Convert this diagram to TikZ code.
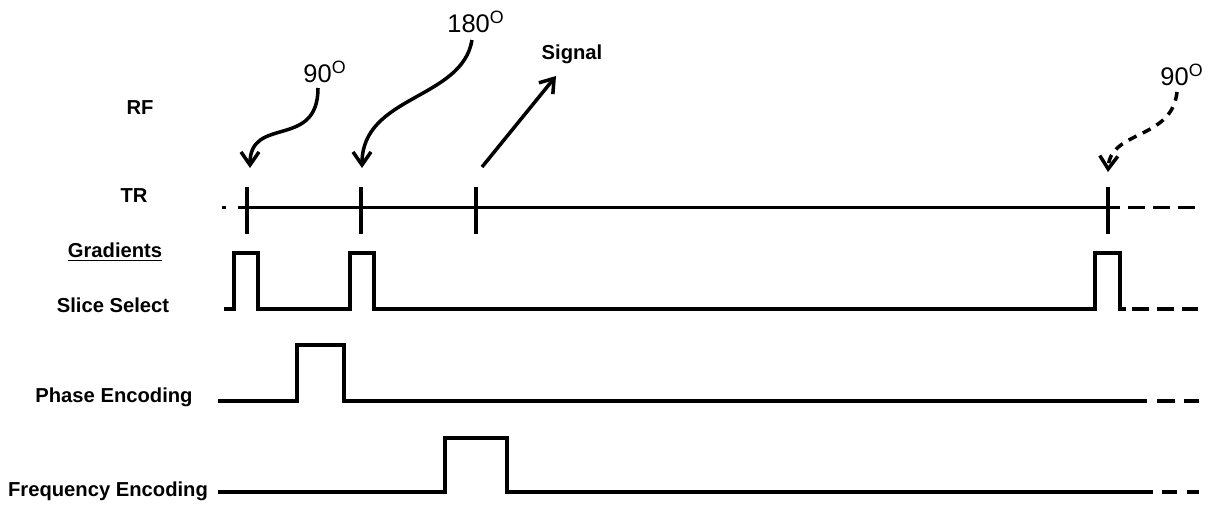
\documentclass[tikz,border=0pt]{standalone}
\usepackage{fontspec}
\setmainfont{Liberation Sans}
\usetikzlibrary{arrows.meta}

\begin{document}
\begin{tikzpicture}[x=0.02cm, y=-0.02cm,
    wave/.style={line width=2.1pt, line join=miter},
    tail/.style={line width=2.1pt, dash pattern=on 9.7pt off 4.5pt},
    lbl/.style={font=\fontsize{11.5}{13}\selectfont\bfseries, inner sep=0pt},
    deg/.style={font=\fontsize{14.5}{16}\selectfont, inner sep=0pt},
    curl/.style={line width=2pt, -{Straight Barb[length=2.6mm,width=3.6mm]}}]
    \useasboundingbox (0,0) rectangle (1216,504);
    % row labels
    \node[lbl] (rf) at (140,108) {RF};
    \node[lbl] (tr) at (134,196) {TR};
    \node[lbl] (grad) at (115,252) {\underline{Gradients}};
    \node[lbl] (slice) at (113,305) {Slice Select};
    \node[lbl] (phase) at (114,397) {Phase Encoding};
    \node[lbl] (freq) at (108,491) {Frequency Encoding};
    % pulse labels
    \node[deg] (d90a) at (325,72) {90\textsuperscript{O}};
    \node[deg] (d180) at (476,22) {180\textsuperscript{O}};
    \node[deg] (d90b) at (1182,75) {90\textsuperscript{O}};
    \node[lbl] (sig) at (572,54) {Signal};
    % TR line
    \draw[wave] (222,207.5) -- (226,207.5);
    \draw[wave] (238,207.5) -- (1120,207.5);
    \draw[tail] (1128,207.5) -- (1196,207.5);
    \foreach \x in {247,361,476,1108}
        \draw[wave] (\x,187) -- (\x,234);
    % slice select
    \draw[wave] (224,309) -- (234,309) -- (234,253) -- (258,253) -- (258,309)
        -- (350,309) -- (350,253) -- (374,253) -- (374,309)
        -- (1095,309) -- (1095,253) -- (1120,253) -- (1120,309) -- (1126,309);
    \draw[tail] (1132,309) -- (1198,309);
    % phase encoding
    \draw[wave] (218,401) -- (297,401) -- (297,345) -- (344,345) -- (344,401) -- (1147,401);
    \draw[tail, dash pattern=on 10pt off 5.5pt] (1157,401) -- (1199,401);
    % frequency encoding
    \draw[wave] (218,492) -- (445,492) -- (445,438) -- (507,438) -- (507,492) -- (1153,492);
    \draw[tail, dash pattern=on 8.5pt off 5.5pt] (1162,492) -- (1199,492);
    % arrows
    \coordinate (a1) at (318,88);
    \coordinate (h1) at (250,168);
    \coordinate (a2) at (472,40);
    \coordinate (h2) at (362,168);
    \coordinate (a4) at (1177,92);
    \coordinate (h4) at (1108,172);
    \coordinate (s0) at (482,167);
    \coordinate (s1) at (556,76);
    \draw[curl] (a1) .. controls (318,150) and (250,115) .. (h1);
    \draw[curl] (a2) .. controls (462,100) and (362,95) .. (h2);
    \draw[curl] (s0) -- (s1);
    \draw[curl, dash pattern=on 5pt off 4pt] (a4) .. controls (1172,140) and (1110,130) .. (h4);
\end{tikzpicture}
\end{document}
